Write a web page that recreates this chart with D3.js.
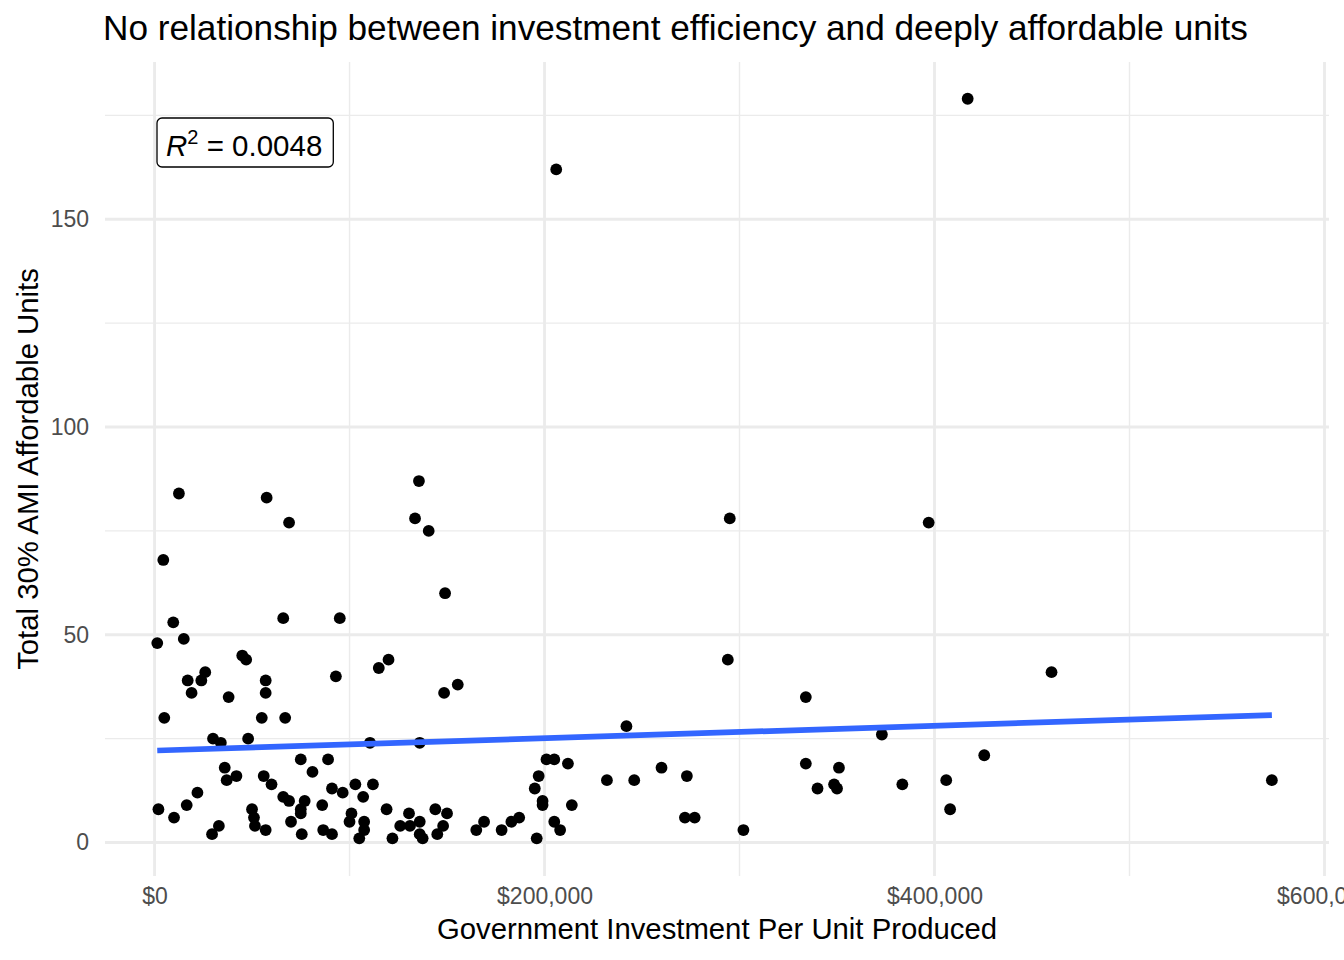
<!DOCTYPE html>
<html><head><meta charset="utf-8">
<script src="https://cdn.jsdelivr.net/npm/d3@7"></script>
<style>
body{margin:0;background:#fff}
text{font-family:"Liberation Sans",Arial,Helvetica,sans-serif}
</style>
</head><body>
<svg id="c" width="1344" height="960"></svg>
<script>
// Government investment per unit produced (USD)
const investment = [
  1400, 15000, 45000, 47000, 26000, 17000, 24000, 19000, 38000, 57000,
  57000, 93000, 5000, 55000, 67000, 30000, 34000, 48000, 75000, 89000,
  36000, 42000, 37000, 81000, 56000, 60000, 22000, 16500, 2000, 10000,
  33000, 29500, 50000, 51000, 51500, 57000, 66000, 69000, 77000, 75000,
  75000, 70000, 75500, 86000, 91000, 96500, 86500, 91000, 101000, 100000,
  103000, 105000, 12500, 57500, 69000, 4500, 9600, 66000, 95000, 135600,
  133600, 140600, 149000, 120000, 115000, 148500, 155500, 110500, 136000, 112000,
  107000, 107500, 107500, 119000, 122000, 126000, 130500, 131000, 136000, 136000,
  137500, 144000, 150000, 148000, 145000, 165000, 169000, 178000, 183000, 187000,
  196000, 195000, 197000, 201000, 205000, 199000, 199000, 205000, 208000, 294000,
  242000, 212000, 214000, 232000, 246000, 260000, 273000, 272000, 277000, 302000,
  334000, 334000, 351000, 340000, 348500, 350000, 373000, 383500, 406000, 408000,
  425500, 460000, 417000, 206000, 295000, 397000, 573000
];
// Total 30% AMI affordable units
const units = [
  48, 49, 45, 44, 41, 39, 39, 36, 35, 39,
  36, 40, 30, 30, 30, 25, 24, 25, 20, 20,
  18, 16, 15, 17, 16, 14, 12, 9, 8, 6,
  4, 2, 8, 6, 4, 3, 11, 10, 10, 8,
  7, 5, 2, 9, 13, 12, 3, 2, 7, 5,
  14, 1, 84, 83, 77, 68, 53, 54, 54, 87,
  78, 75, 60, 44, 42, 36, 38, 24, 24, 14,
  11, 5, 3, 8, 1, 4, 7, 4, 5, 2,
  1, 8, 7, 4, 2, 3, 5, 3, 5, 6,
  1, 13, 16, 20, 20, 10, 9, 5, 3, 44,
  28, 19, 9, 15, 15, 18, 16, 6, 6, 3,
  35, 19, 18, 13, 14, 13, 26, 14, 15, 8,
  21, 41, 179, 162, 78, 77, 15
];
const xTicks = [0, 200000, 400000, 600000];
const xMinorTicks = [100000, 300000, 500000];
const yTicks = [0, 50, 100, 150];
const yMinorTicks = [25, 75, 125, 175];
const titleText = "No relationship between investment efficiency and deeply affordable units";
const xTitle = "Government Investment Per Unit Produced";
const yTitle = "Total 30% AMI Affordable Units";
const r2Label = "0.0048";

const panel = {left: 105, right: 1329, top: 62, bottom: 876};
const svg = d3.select("#c");

const x = d3.scaleLinear().domain([-25400, 602300]).range([panel.left, panel.right]);
const y = d3.scaleLinear().domain([-8.06, 187.85]).range([panel.bottom, panel.top]);

const grid = svg.append("g");
grid.selectAll(".xm").data(xMinorTicks).join("line")
  .attr("x1", d => x(d)).attr("x2", d => x(d))
  .attr("y1", panel.top).attr("y2", panel.bottom)
  .attr("stroke", "#EBEBEB").attr("stroke-width", 1.42);
grid.selectAll(".ym").data(yMinorTicks).join("line")
  .attr("y1", d => y(d)).attr("y2", d => y(d))
  .attr("x1", panel.left).attr("x2", panel.right)
  .attr("stroke", "#EBEBEB").attr("stroke-width", 1.42);
grid.selectAll(".xM").data(xTicks).join("line")
  .attr("x1", d => x(d)).attr("x2", d => x(d))
  .attr("y1", panel.top).attr("y2", panel.bottom)
  .attr("stroke", "#EBEBEB").attr("stroke-width", 2.85);
grid.selectAll(".yM").data(yTicks).join("line")
  .attr("y1", d => y(d)).attr("y2", d => y(d))
  .attr("x1", panel.left).attr("x2", panel.right)
  .attr("stroke", "#EBEBEB").attr("stroke-width", 2.85);

const fmt = v => "$" + d3.format(",")(v);
const xAxis = svg.append("g").attr("transform", `translate(0,${panel.bottom})`)
  .call(d3.axisBottom(x).tickValues(xTicks).tickFormat(fmt).tickSize(0).tickPadding(12));
const yAxis = svg.append("g").attr("transform", `translate(${panel.left},0)`)
  .call(d3.axisLeft(y).tickValues(yTicks).tickSize(0).tickPadding(16));
[xAxis, yAxis].forEach(a => {
  a.select(".domain").remove();
  a.selectAll("text").attr("fill", "#4D4D4D").style("font-size", "23px")
    .style("font-family", '"Liberation Sans",Arial,sans-serif');
});

const pts = investment.map((v, i) => ({x: v, y: units[i]}));
svg.append("g").selectAll("circle").data(pts).join("circle")
  .attr("cx", d => x(d.x)).attr("cy", d => y(d.y)).attr("r", 5.9).attr("fill", "#000");

// linear fit (least squares)
const mx = d3.mean(pts, d => d.x), my = d3.mean(pts, d => d.y);
const sxy = d3.sum(pts, d => (d.x - mx) * (d.y - my));
const sxx = d3.sum(pts, d => (d.x - mx) ** 2);
const slope = sxy / sxx, intercept = my - slope * mx;
const [xmin, xmax] = d3.extent(pts, d => d.x);
const fit = [xmin, xmax].map(v => ({x: v, y: intercept + slope * v}));
svg.append("path").datum(fit)
  .attr("d", d3.line().x(d => x(d.x)).y(d => y(d.y)))
  .attr("stroke", "#3366FF").attr("stroke-width", 5.7).attr("fill", "none");

// R^2 label
const lab = svg.append("g");
const lt = lab.append("text").attr("x", 166).attr("y", 156).style("font-size", "29.5px").attr("fill", "#000");
lt.append("tspan").style("font-style", "italic").text("R");
lt.append("tspan").attr("dy", -12).style("font-size", "20px").text("2");
lt.append("tspan").attr("dy", 12).text(" = " + r2Label);
const bb = lt.node().getBBox();
lab.insert("rect", "text").attr("x", 157).attr("y", 118)
  .attr("width", bb.x + bb.width - 157 + 11).attr("height", 49)
  .attr("rx", 5).attr("fill", "#fff").attr("stroke", "#000").attr("stroke-width", 1.3);

svg.append("text").attr("x", 103).attr("y", 40).style("font-size", "35.2px").attr("fill", "#000").text(titleText);
svg.append("text").attr("x", (panel.left + panel.right) / 2).attr("y", 939).attr("text-anchor", "middle")
  .style("font-size", "29.3px").attr("fill", "#000").text(xTitle);
svg.append("text").attr("transform", `translate(38,${(panel.top + panel.bottom) / 2}) rotate(-90)`)
  .attr("text-anchor", "middle").style("font-size", "29.3px").attr("fill", "#000").text(yTitle);
</script>
</body></html>
